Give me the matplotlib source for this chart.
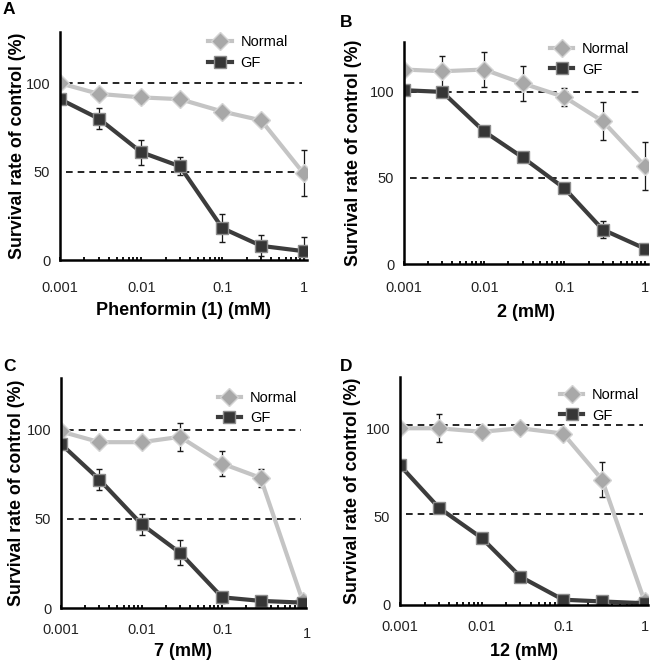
import matplotlib
matplotlib.use("Agg")
import matplotlib.pyplot as plt
from matplotlib.lines import Line2D
from matplotlib.ticker import LogLocator, FixedLocator, NullFormatter

plt.rcParams["font.family"] = ["Liberation Sans", "DejaVu Sans"]

# Concentrations (mM)
conc = [0.001, 0.003, 0.01, 0.03, 0.1, 0.3, 1]

# Panel A - Phenformin (1)
a_normal = [100, 94, 92, 91, 84, 79, 49]
a_normal_err = [0, 3, 3, 0, 0, 0, 13]
a_gf = [91, 80, 61, 53, 18, 8, 5]
a_gf_err = [0, 6, 7, 5, 8, 6, 8]

# Panel B - compound 2
b_normal = [113, 112, 113, 105, 97, 83, 57]
b_normal_err = [0, 9, 10, 10, 5, 11, 14]
b_gf = [101, 100, 77, 62, 44, 20, 9]
b_gf_err = [0, 3, 0, 0, 0, 5, 0]

# Panel C - compound 7
c_normal = [99, 93, 93, 96, 81, 73, 4]
c_normal_err = [0, 0, 0, 8, 7, 5, 0]
c_gf = [92, 72, 47, 31, 6, 4, 3]
c_gf_err = [0, 6, 6, 7, 3, 2, 0]

# Panel D - compound 12
d_normal = [100, 100, 98, 100, 97, 71, 2]
d_normal_err = [0, 8, 0, 0, 3, 10, 0]
d_gf = [79, 55, 38, 16, 3, 2, 1]
d_gf_err = [0, 0, 0, 0, 0, 0, 0]

xtick_vals = [0.001, 0.01, 0.1, 1]
xtick_labels = ["0.001", "0.01", "0.1", "1"]

panels = [
    ("A", "Phenformin (1) (mM)", a_normal, a_normal_err, a_gf, a_gf_err, [100, 50]),
    ("B", "2 (mM)", b_normal, b_normal_err, b_gf, b_gf_err, [100, 50]),
    ("C", "7 (mM)", c_normal, c_normal_err, c_gf, c_gf_err, [100, 50]),
    ("D", "12 (mM)", d_normal, d_normal_err, d_gf, d_gf_err, [102, 51.5]),
]

# layout in pixels (figure is 654x664)
rects = [(60, 32, 307, 260), (404, 42, 648, 264), (61, 378, 306, 608), (400, 377, 648, 605)]
letter_pos = [(3, 2), (340, 15), (3, 359), (340, 359)]
legend_anchor = [(0.60, 0.985), (0.598, 1.0), (0.64, 0.945), (0.645, 0.952)]
ylabel_x = [26, 362, 25, 361]
tick_pad = [15, 12.5, 11, 11]
xlabel_pad = [5, 6, 4, 6]

W, H = 654, 664
fig = plt.figure(figsize=(W / 100, H / 100), dpi=100)

light = "#c4c4c4"
dark = "#3c3c3c"
normal_style = dict(color=light, lw=3, marker="D", ms=9.5, mfc="#a8a8a8", mec="#d4d4d4", mew=1.0)
gf_style = dict(color=dark, lw=3, marker="s", ms=8.5, mfc="#363636", mec="#8c8c8c", mew=1.0)

for i, (letter, xlabel, nv, ne, gv, ge, refs) in enumerate(panels):
    l, t, r, b = rects[i]
    ax = fig.add_axes([l / W, 1 - b / H, (r - l) / W, (b - t) / H])
    ax.set_xscale("log")
    ax.set_xlim(0.001, 1.1)
    ax.set_ylim(0, 129)

    # dashed reference lines
    for yref in refs:
        ax.hlines(yref, 0.00118, 0.95, colors="black", linestyles=(0, (4, 3)), lw=1.2, zorder=1)

    ax.errorbar(conc, nv, yerr=ne, ecolor="#1a1a1a", elinewidth=0.9, capsize=2.4,
                capthick=0.9, zorder=3, **normal_style)
    ax.errorbar(conc, gv, yerr=ge, ecolor="#1a1a1a", elinewidth=0.9, capsize=2.4,
                capthick=0.9, zorder=4, **gf_style)

    for side in ["top", "right"]:
        ax.spines[side].set_visible(False)
    for side in ["left", "bottom"]:
        ax.spines[side].set_linewidth(1.8)
        ax.spines[side].set_zorder(5)

    ax.xaxis.set_major_locator(FixedLocator(xtick_vals))
    labels = list(xtick_labels)
    if letter == "C":
        # the "1" sits a little lower and to the right in this panel
        labels[-1] = ""
        ax.annotate(xtick_labels[-1], xy=(xtick_vals[-1], 0), xycoords=("data", "axes fraction"),
                    xytext=(3, -19), textcoords="offset points", ha="center", va="center",
                    fontsize=10.5, color="#222222", annotation_clip=False)
    ax.set_xticklabels(labels)
    ax.xaxis.set_minor_locator(LogLocator(base=10, subs=range(2, 10)))
    ax.xaxis.set_minor_formatter(NullFormatter())
    ax.tick_params(axis="x", which="both", direction="in", length=2, width=1.3,
                   pad=tick_pad[i], labelsize=10.5, labelcolor="#222222")
    ax.set_yticks([0, 50, 100])
    ax.tick_params(axis="y", length=0, pad=7, labelsize=10.5, labelcolor="#222222")

    ax.set_xlabel(xlabel, fontsize=13, fontweight="bold", labelpad=xlabel_pad[i])
    ax.set_ylabel("Survival rate of control (%)", fontsize=12.8, fontweight="bold")
    ax.yaxis.set_label_coords((ylabel_x[i] - l) / (r - l), 0.5)

    handles = [Line2D([], [], **normal_style), Line2D([], [], **gf_style)]
    ax.legend(handles, ["Normal", "GF"], loc="upper left", bbox_to_anchor=legend_anchor[i],
              frameon=False, fontsize=10.5, handlelength=1.6, handletextpad=0.6,
              labelspacing=0.45, borderaxespad=0, borderpad=0)

    fig.text(letter_pos[i][0] / W, 1 - letter_pos[i][1] / H, letter, fontsize=12.5,
             fontweight="bold", va="top", ha="left")

fig.savefig("out.png", dpi=100)
